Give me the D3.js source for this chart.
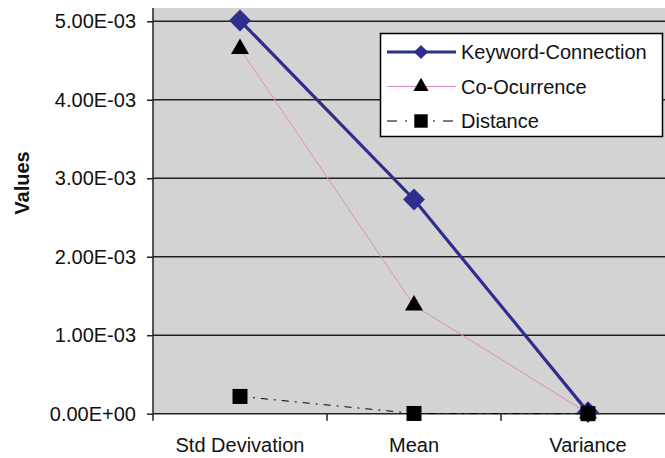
<!DOCTYPE html>
<html>
<head>
<meta charset="utf-8">
<script src="https://cdn.jsdelivr.net/npm/d3@7"></script>
<style>
  body { margin: 0; background: #fff; }
  svg { display: block; font-family: "Liberation Sans", Arial, sans-serif; }
  .tick-label { font-size: 20px; fill: #111; }
  .axis-title { font-size: 20px; font-weight: bold; fill: #111; }
  .legend-text { font-size: 20px; fill: #111; }
</style>
</head>
<body>
<svg id="chart"></svg>
<script>
// Categories and series values
const categories = ['Std Devivation', 'Mean', 'Variance'];
const keywordConnection = [5.01e-3, 2.73e-3, 0.02e-3];
const coOccurrence = [4.65e-3, 1.38e-3, 0.005e-3];
const distance = [0.22e-3, 0.003e-3, 0.0];
const yTicks = [0, 1e-3, 2e-3, 3e-3, 4e-3, 5e-3];

const seriesNames = ['Keyword-Connection', 'Co-Ocurrence', 'Distance'];
const seriesValues = [keywordConnection, coOccurrence, distance];

const width = 665, height = 458;
const margin = {top: 8, left: 153};

const svg = d3.select('#chart')
    .attr('width', width)
    .attr('height', height);

// Excel style scales: bands for categories, linear for values
const x = d3.scaleBand()
    .domain(categories)
    .range([margin.left, margin.left + 522])
    .padding(0);

const y = d3.scaleLinear()
    .domain([0, 5e-3])
    .range([413.7, 21.3]);

// Scientific format like 5.00E-03
function sci(d) {
  if (d === 0) return '0.00E+00';
  const [m, e] = d.toExponential(2).split('e');
  const n = +e;
  return m + 'E' + (n < 0 ? '-' : '+') + String(Math.abs(n)).padStart(2, '0');
}

// Plot area
svg.append('rect')
    .attr('x', margin.left)
    .attr('y', margin.top)
    .attr('width', width - margin.left)
    .attr('height', y(0) - margin.top)
    .attr('fill', '#d3d3d3');

// Gridlines
svg.append('g')
  .selectAll('line')
  .data(yTicks.filter(d => d > 0))
  .join('line')
    .attr('x1', margin.left)
    .attr('x2', width)
    .attr('y1', d => y(d))
    .attr('y2', d => y(d))
    .attr('stroke', '#222')
    .attr('stroke-width', 1.5);

// Y axis
const yAxisG = svg.append('g')
    .attr('transform', `translate(${margin.left},0)`)
    .call(d3.axisLeft(y).tickValues(yTicks).tickSize(6).tickPadding(11).tickFormat(sci));
yAxisG.selectAll('.tick line').attr('stroke', '#222').attr('stroke-width', 1.5);
yAxisG.select('.domain').remove();
yAxisG.selectAll('.tick text')
    .attr('class', 'tick-label')
    .attr('font-family', null)
    .attr('font-size', null);

svg.append('line')
    .attr('x1', margin.left).attr('x2', margin.left)
    .attr('y1', margin.top).attr('y2', y(0))
    .attr('stroke', '#222').attr('stroke-width', 1.5);

// X axis: labels at centres, ticks between categories
const xAxisG = svg.append('g')
    .attr('transform', `translate(0,${y(0)})`)
    .call(d3.axisBottom(x).tickSize(0).tickPadding(24));
xAxisG.select('.domain').remove();
xAxisG.selectAll('.tick text')
    .attr('class', 'tick-label')
    .attr('font-family', null)
    .attr('font-size', null);

svg.append('line')
    .attr('x1', margin.left).attr('x2', width)
    .attr('y1', y(0)).attr('y2', y(0))
    .attr('stroke', '#222').attr('stroke-width', 1.5);

svg.append('g')
  .selectAll('line')
  .data(categories)
  .join('line')
    .attr('x1', d => x(d))
    .attr('x2', d => x(d))
    .attr('y1', y(0))
    .attr('y2', y(0) + 7)
    .attr('stroke', '#222')
    .attr('stroke-width', 1.5);

// Y axis title
svg.append('text')
    .attr('class', 'axis-title')
    .attr('transform', 'translate(29,183) rotate(-90)')
    .attr('text-anchor', 'middle')
    .text('Values');

// Series styles
const styles = [
  {stroke: '#2e2e8f', width: 3.2, dash: null, symbol: d3.symbolSquare, size: 240, rotate: 45, fill: '#2e2e8f', legendSize: 100},
  {stroke: '#e088c8', width: 1, dash: null, symbol: d3.symbolTriangle, size: 140, rotate: 0, fill: '#000', legendSize: 100},
  {stroke: '#000', width: 1, dash: '7,6,2,6', symbol: d3.symbolSquare, size: 225, rotate: 0, fill: '#000', legendSize: 180}
];

const cx = d => x(d) + x.bandwidth() / 2;
const line = d3.line()
    .x(d => cx(d.cat))
    .y(d => y(d.v));

seriesValues.forEach((vals, i) => {
  const s = styles[i];
  const pts = categories.map((c, j) => ({cat: c, v: vals[j]}));
  svg.append('path')
      .datum(pts)
      .attr('fill', 'none')
      .attr('stroke', s.stroke)
      .attr('stroke-width', s.width)
      .attr('stroke-dasharray', s.dash)
      .attr('d', line);
  svg.append('g')
    .selectAll('path')
    .data(pts)
    .join('path')
      .attr('d', d3.symbol(s.symbol, s.size))
      .attr('fill', s.fill)
      .attr('transform', d => `translate(${cx(d.cat)},${y(d.v)}) rotate(${s.rotate})`);
});

// Legend
const legend = svg.append('g');
legend.append('rect')
    .attr('x', 380.5).attr('y', 33.5)
    .attr('width', 282).attr('height', 103)
    .attr('fill', '#fff')
    .attr('stroke', '#000')
    .attr('stroke-width', 1.5);

seriesNames.forEach((name, i) => {
  const s = styles[i];
  const ly = 52 + i * 34.5;
  legend.append('line')
      .attr('x1', 387).attr('x2', 456)
      .attr('y1', ly).attr('y2', ly)
      .attr('stroke', s.stroke)
      .attr('stroke-width', s.width)
      .attr('stroke-dasharray', s.dash ? '10,8,2,8' : null);
  legend.append('path')
      .attr('d', d3.symbol(s.symbol, s.legendSize))
      .attr('fill', s.fill)
      .attr('transform', `translate(421,${ly}) rotate(${s.rotate})`);
  legend.append('text')
      .attr('class', 'legend-text')
      .attr('x', 461)
      .attr('y', ly)
      .attr('dy', '0.35em')
      .text(name);
});
</script>
</body>
</html>
